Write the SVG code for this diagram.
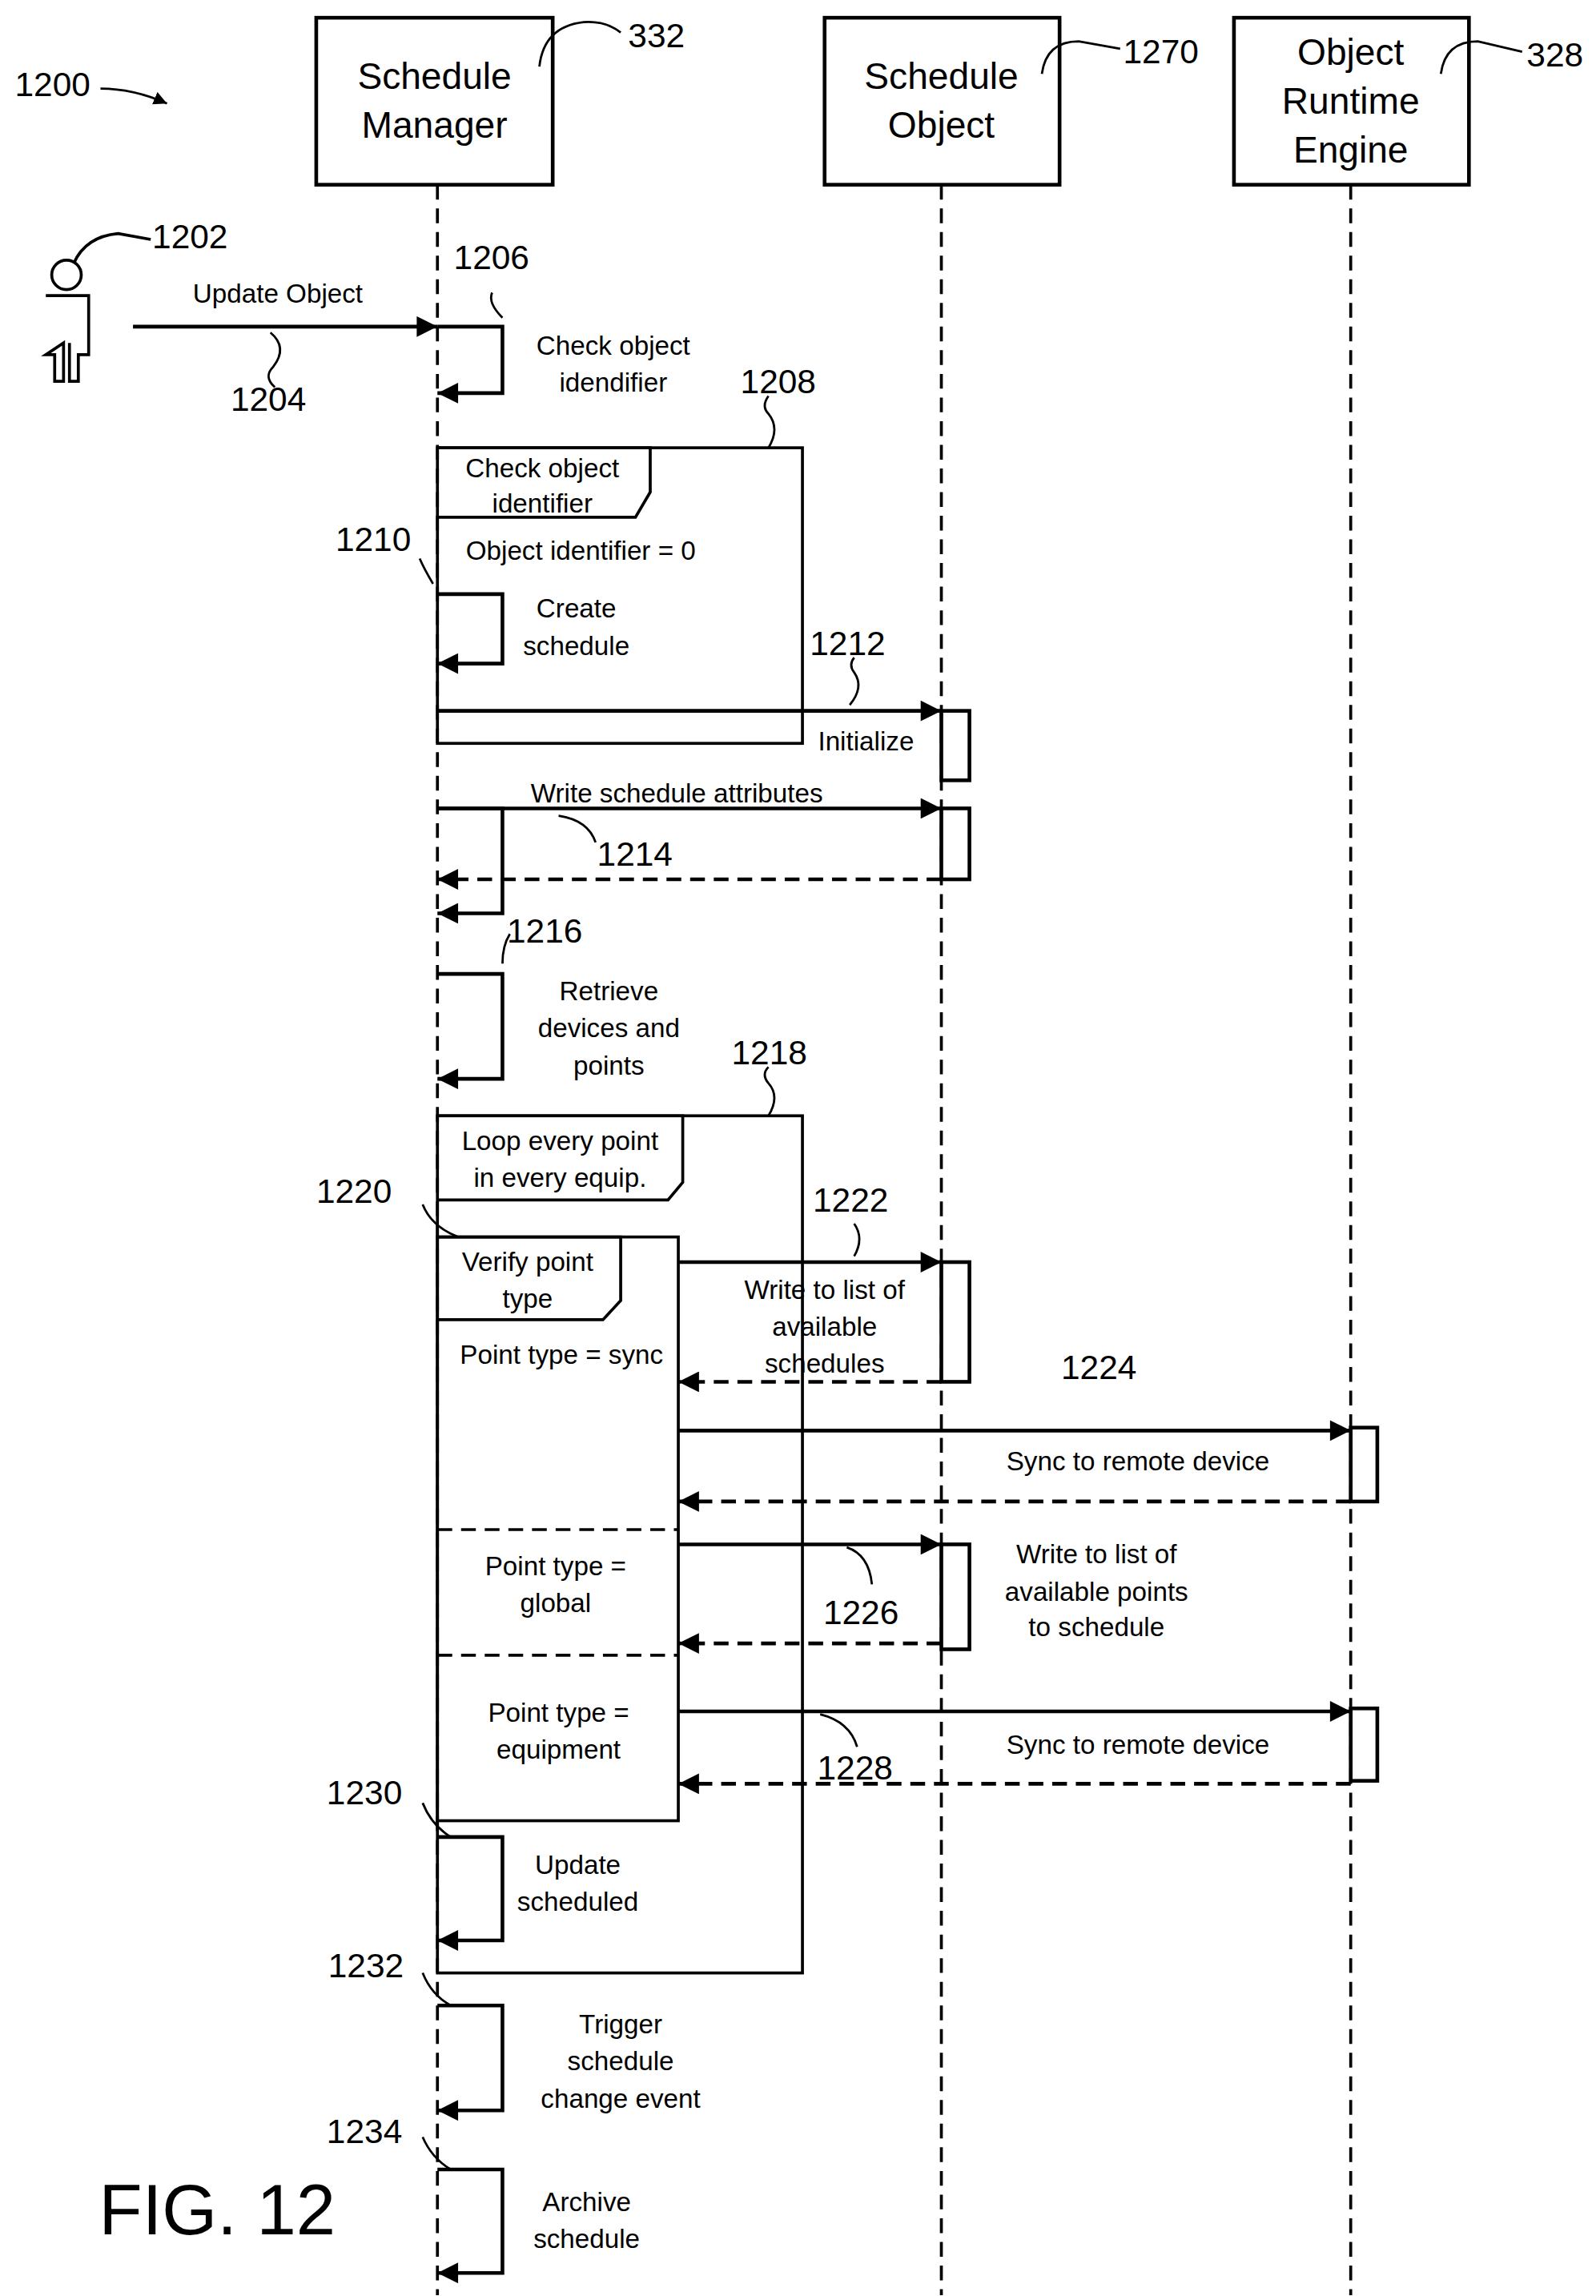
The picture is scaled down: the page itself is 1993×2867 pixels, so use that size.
<svg xmlns="http://www.w3.org/2000/svg" width="1993" height="2867" viewBox="0 0 1993 2867">
<defs>
<marker id="ah" viewBox="0 0 10 10" refX="10" refY="5" markerWidth="9" markerHeight="9" markerUnits="userSpaceOnUse" orient="auto"><path d="M0,0 L10,5 L0,10 z" fill="#000"/></marker>
<marker id="ahb" viewBox="0 0 10 10" refX="10" refY="5" markerWidth="18" markerHeight="14" markerUnits="userSpaceOnUse" orient="auto"><path d="M0,0 L10,5 L0,10 z" fill="#000"/></marker>
</defs>
<style>
text{font-family:"Liberation Sans",Arial,sans-serif;fill:#000}
.t{font-size:18px;text-anchor:middle}
.tl{font-size:18px}
.n{font-size:23px}
.h{font-size:25px;text-anchor:middle}
.s{fill:none;stroke:#000;stroke-width:2}
.m{fill:none;stroke:#000;stroke-width:2.5;marker-end:url(#ahb)}
.d{fill:none;stroke:#000;stroke-width:2.5;stroke-dasharray:10,6;marker-end:url(#ahb)}
.ll{fill:none;stroke:#000;stroke-width:2;stroke-dasharray:10,6}
.box{fill:#fff;stroke:#000;stroke-width:2.5}
.sq{fill:none;stroke:#000;stroke-width:1.5}
</style>
<rect width="1993" height="2867" fill="#fff"/>
<g transform="scale(1.8454)">
<g id="lifelines">
<line class="ll" x1="296" y1="125" x2="296" y2="1553"/>
<line class="ll" x1="637" y1="125" x2="637" y2="1553"/>
<line class="ll" x1="914" y1="125" x2="914" y2="1553"/>
</g>
<g id="n1200"><text class="n" x="10" y="65">1200</text><path class="sq" d="M68,60 Q90,60 113,70" marker-end="url(#ah)"/></g>
<g id="schedule-manager"><rect class="box" x="214" y="12" width="160" height="113"/><text class="h" x="294" y="60">Schedule</text><text class="h" x="294" y="93">Manager</text><path class="sq" d="M365,45 Q368,18 395,15 Q410,14 420,22"/><text class="n" x="425" y="32">332</text></g>
<g id="schedule-object"><rect class="box" x="558" y="12" width="159" height="113"/><text class="h" x="637" y="60">Schedule</text><text class="h" x="637" y="93">Object</text><path class="sq" d="M705,50 Q708,28 730,28 L758,33"/><text class="n" x="760" y="43">1270</text></g>
<g id="ore"><rect class="box" x="835" y="12" width="159" height="113"/><text class="h" x="914" y="44">Object</text><text class="h" x="914" y="77">Runtime</text><text class="h" x="914" y="110">Engine</text><path class="sq" d="M975,50 Q978,28 1000,28 L1030,35"/><text class="n" x="1033" y="45">328</text></g>
<g id="actor" class="s"><circle cx="45" cy="186" r="10"/><path d="M31,200 H60 V240 H53 V258 H47 V232 M43,232 V258 H37 V240 H31 Z"/><path d="M50,178 Q58,160 80,158 L102,162"/></g>
<text class="n" x="103" y="168">1202</text>
<g id="connectors">
<line class="m" x1="90" y1="221" x2="296" y2="221"/>
<path class="sq" d="M183,225 Q195,235 185,248 Q178,255 186,262"/>
<text class="t" x="188" y="205">Update Object</text><text class="n" x="156" y="278">1204</text>
<path class="m" d="M296,221 H340 V266 H296"/>
<path class="sq" d="M340,215 Q330,205 333,198"/><text class="n" x="307" y="182">1206</text>
<text class="t" x="415" y="240">Check object</text><text class="t" x="415" y="265">idendifier</text>
<path class="m" d="M296,402 H340 V449 H296"/>
<path class="sq" d="M293,395 Q287,385 284,378"/><text class="n" x="227" y="373">1210</text>
<text class="t" x="390" y="418">Create</text><text class="t" x="390" y="443">schedule</text>
<line class="m" x1="296" y1="481" x2="637" y2="481"/>
<path class="sq" d="M575,477 Q585,465 578,455 Q574,450 578,445"/><text class="n" x="548" y="443">1212</text>
<rect class="box" x="637" y="481" width="19" height="47"/>
<text class="t" x="586" y="508">Initialize</text>
<line class="m" x1="296" y1="547" x2="637" y2="547"/>
<rect class="box" x="637" y="547" width="19" height="48"/>
<line class="d" x1="637" y1="595" x2="296" y2="595"/>
<text class="t" x="458" y="543">Write schedule attributes</text>
<path class="sq" d="M378,552 Q398,555 403,570"/><text class="n" x="404" y="586">1214</text>
<path class="m" d="M296,547 H340 V618 H296"/>
<path class="m" d="M296,659 H340 V730 H296"/>
<path class="sq" d="M340,652 Q340,640 345,632"/><text class="n" x="343" y="638">1216</text>
<text class="t" x="412" y="677">Retrieve</text><text class="t" x="412" y="702">devices and</text><text class="t" x="412" y="727">points</text>
<line class="m" x1="459" y1="854" x2="637" y2="854"/>
<rect class="box" x="637" y="854" width="19" height="81"/>
<line class="d" x1="637" y1="935" x2="459" y2="935"/>
<path class="sq" d="M578,850 Q585,838 578,828"/><text class="n" x="550" y="820">1222</text>
<text class="t" x="558" y="879">Write to list of</text><text class="t" x="558" y="904">available</text><text class="t" x="558" y="929">schedules</text>
<line class="m" x1="459" y1="968" x2="914" y2="968"/>
<rect class="box" x="914" y="966" width="18" height="50"/>
<line class="d" x1="914" y1="1016" x2="459" y2="1016"/>
<text class="n" x="718" y="933">1224</text>
<text class="t" x="770" y="995">Sync to remote device</text>
<line class="m" x1="459" y1="1045" x2="637" y2="1045"/>
<rect class="box" x="637" y="1045" width="19" height="71"/>
<line class="d" x1="637" y1="1112" x2="459" y2="1112"/>
<path class="sq" d="M573,1047 Q588,1052 590,1072"/><text class="n" x="557" y="1099">1226</text>
<text class="t" x="742" y="1058">Write to list of</text><text class="t" x="742" y="1083">available points</text><text class="t" x="742" y="1107">to schedule</text>
<line class="m" x1="459" y1="1158" x2="914" y2="1158"/>
<rect class="box" x="914" y="1156" width="18" height="49"/>
<line class="d" x1="914" y1="1207" x2="459" y2="1207"/>
<path class="sq" d="M555,1160 Q575,1165 580,1182"/><text class="n" x="553" y="1204">1228</text>
<text class="t" x="770" y="1187">Sync to remote device</text>
<path class="m" d="M296,1243 H340 V1313 H296"/>
<path class="sq" d="M286,1220 Q292,1235 305,1243"/><text class="n" x="221" y="1221">1230</text>
<text class="t" x="391" y="1268">Update</text><text class="t" x="391" y="1293">scheduled</text>
<path class="m" d="M296,1357 H340 V1428 H296"/>
<path class="sq" d="M286,1335 Q292,1350 305,1357"/><text class="n" x="222" y="1338">1232</text>
<text class="t" x="420" y="1376">Trigger</text><text class="t" x="420" y="1401">schedule</text><text class="t" x="420" y="1426">change event</text>
<path class="m" d="M296,1468 H340 V1538 H296"/>
<path class="sq" d="M286,1446 Q292,1460 305,1468"/><text class="n" x="221" y="1450">1234</text>
<text class="t" x="397" y="1496">Archive</text><text class="t" x="397" y="1521">schedule</text>
</g>
<g id="frame1208"><rect class="s" x="296" y="303" width="247" height="200"/><path class="s" d="M296,303 H440 V333 L430,350 H296"/>
<text class="t" x="367" y="323">Check object</text><text class="t" x="367" y="347">identifier</text>
<text class="t" x="393" y="379">Object identifier = 0</text>
<path class="sq" d="M520,303 Q528,290 520,280 Q515,275 520,268"/><text class="n" x="501" y="266">1208</text></g>
<g id="frame1218"><rect class="s" x="296" y="755" width="247" height="580"/><path class="s" d="M296,755 H462 V800 L452,812 H296"/>
<text class="t" x="379" y="778">Loop every point</text><text class="t" x="379" y="803">in every equip.</text>
<path class="sq" d="M520,755 Q528,742 520,733 Q515,727 520,722"/><text class="n" x="495" y="720">1218</text></g>
<g id="frame1220"><rect class="s" x="296" y="837" width="163" height="395"/><path class="s" d="M296,837 H420 V880 L408,893 H296"/>
<text class="t" x="357" y="860">Verify point</text><text class="t" x="357" y="885">type</text>
<text class="t" x="380" y="923">Point type = sync</text>
<line class="ll" x1="296" y1="1035" x2="459" y2="1035"/><line class="ll" x1="296" y1="1120" x2="459" y2="1120"/>
<text class="t" x="376" y="1066">Point type =</text><text class="t" x="376" y="1091">global</text>
<text class="t" x="378" y="1165">Point type =</text><text class="t" x="378" y="1190">equipment</text>
<path class="sq" d="M286,815 Q292,830 310,837"/><text class="n" x="214" y="814">1220</text></g>
<text x="147" y="1512" style="font-size:48px;text-anchor:middle">FIG. 12</text>
</g>
</svg>
